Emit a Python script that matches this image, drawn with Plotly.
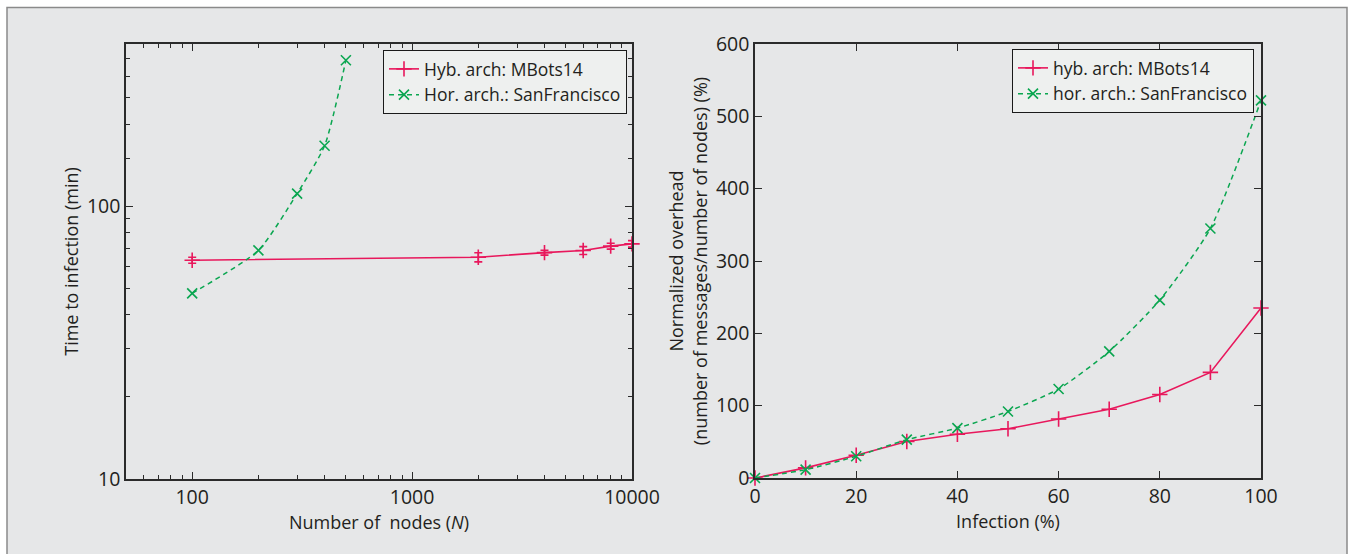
import plotly.graph_objects as go

# ---- data: left panel (time to infection vs number of nodes) ----
hyb_nodes = [100, 2000, 4000, 6000, 8000, 10000]
hyb_time = [63.5, 65.1, 67.7, 68.9, 71.5, 72.9]
hyb_err = [1.6, 2.5, 1.4, 2.3, 1.8, 2.0]
hor_nodes = [100, 200, 300, 400, 500]
hor_time = [48, 69, 111.5, 167, 344]

# ---- data: right panel (normalized overhead vs infection) ----
infection = [0, 10, 20, 30, 40, 50, 60, 70, 80, 90, 100]
hyb_overhead = [0, 14, 31.5, 50.5, 60.5, 68, 81.5, 95, 115.5, 146, 235]
hor_overhead = [0, 11.5, 30, 53, 69, 92, 123, 175, 246, 345, 522]

x_major = [100, 1000, 10000]
x_minor = [50, 60, 70, 80, 90, 200, 300, 400, 500, 600, 700, 800, 900,
           2000, 3000, 4000, 5000, 6000, 7000, 8000, 9000]
y_major = [10, 100]
y_minor = [20, 30, 40, 50, 60, 70, 80, 90, 150, 200, 250, 300, 350]

RED = "#e8185c"
GREEN = "#0aa650"
TXT = "#231f20"
AX = "#2b2b2b"
W, H = 1350, 554

fig = go.Figure()

fig.add_trace(go.Scatter(
    x=hyb_nodes, y=hyb_time, mode="lines+markers", name="Hyb. arch: MBots14",
    line=dict(color=RED, width=1.6),
    marker=dict(symbol="cross-thin", size=11, line=dict(color=RED, width=1.6)),
    error_y=dict(type="data", array=hyb_err, color=RED, thickness=1.6, width=4),
    cliponaxis=False, xaxis="x", yaxis="y", legend="legend"))
fig.add_trace(go.Scatter(
    x=hor_nodes, y=hor_time, mode="lines+markers", name="Hor. arch.: SanFrancisco",
    line=dict(color=GREEN, width=1.5, dash="5px,4px", shape="spline", smoothing=0.6),
    marker=dict(symbol="x-thin", size=10, line=dict(color=GREEN, width=1.6)),
    cliponaxis=False, xaxis="x", yaxis="y", legend="legend"))

fig.add_trace(go.Scatter(
    x=infection, y=hyb_overhead, mode="lines+markers", name="hyb. arch: MBots14",
    line=dict(color=RED, width=1.6),
    marker=dict(symbol="cross-thin", size=11, line=dict(color=RED, width=1.6)),
    cliponaxis=False, xaxis="x2", yaxis="y2", legend="legend2"))
fig.add_trace(go.Scatter(
    x=infection, y=hor_overhead, mode="lines+markers", name="hor. arch.: SanFrancisco",
    line=dict(color=GREEN, width=1.5, dash="5px,4px", shape="spline", smoothing=0.6),
    marker=dict(symbol="x-thin", size=10, line=dict(color=GREEN, width=1.6)),
    cliponaxis=False, xaxis="x2", yaxis="y2", legend="legend2"))

common = dict(showline=True, linecolor=AX, linewidth=1.5, mirror="ticks",
              ticks="inside", ticklen=7, tickwidth=1.2, tickcolor=AX,
              showgrid=False, zeroline=False, automargin=False,
              tickfont=dict(size=19.5, color=TXT),
              title_font=dict(size=18, color=TXT))

ytop = 1 - 44 / H
legend_style = dict(xanchor="right", yanchor="top",
                    bgcolor="#eef0ef", bordercolor="#1a1a1a", borderwidth=1,
                    font=dict(size=17.5, color=TXT), tracegroupgap=0)
fig.update_layout(
    width=W, height=H,
    margin=dict(l=0, r=0, t=0, b=0, autoexpand=False),
    paper_bgcolor="white",
    plot_bgcolor="#d9dfdc",
    font=dict(family="Open Sans", color=TXT),
    xaxis=dict(common, type="log", domain=[126 / W, 632 / W],
               range=[1.699, 4.0], tickmode="array", tickvals=x_major,
               ticktext=["100", "1000", "10000"],
               minor=dict(tickmode="array", tickvals=x_minor, ticks="inside",
                          ticklen=4, tickcolor=AX, tickwidth=1.2),
               title=dict(text="Number of\u00a0 nodes (<i>N</i>)", standoff=7),
               anchor="y"),
    yaxis=dict(common, type="log", domain=[1 - 479 / H, ytop],
               range=[1.0, 2.596], tickmode="array", tickvals=y_major,
               ticktext=["10", "100"],
               minor=dict(tickmode="array", tickvals=y_minor, ticks="inside",
                          ticklen=4, tickcolor=AX, tickwidth=1.2),
               title=dict(text="Time to infection (min)", standoff=4),
               anchor="x"),
    xaxis2=dict(common, domain=[755 / W, 1261 / W], range=[0, 100],
                tickmode="array", tickvals=[0, 20, 40, 60, 80, 100],
                title=dict(text="Infection (%)", standoff=7), anchor="y2"),
    yaxis2=dict(common, domain=[1 - 478 / H, ytop], range=[0, 600],
                tickmode="array", tickvals=[0, 100, 200, 300, 400, 500, 600],
                title=dict(text="Normalized overhead<br>(number of messages/number of nodes) (%)",
                           standoff=4),
                anchor="x2"),
    legend=dict(legend_style, x=627 / W, y=1 - 50 / H),
    legend2=dict(legend_style, x=1254 / W, y=1 - 49 / H),
    shapes=[dict(type="rect", xref="paper", yref="paper", layer="below",
                 x0=7 / W, x1=1347 / W, y0=-0.05, y1=1 - 7.5 / H,
                 fillcolor="#e6e7e8", line=dict(color="#8a8a8a", width=1.5))],
)

fig.write_html("out.html")
